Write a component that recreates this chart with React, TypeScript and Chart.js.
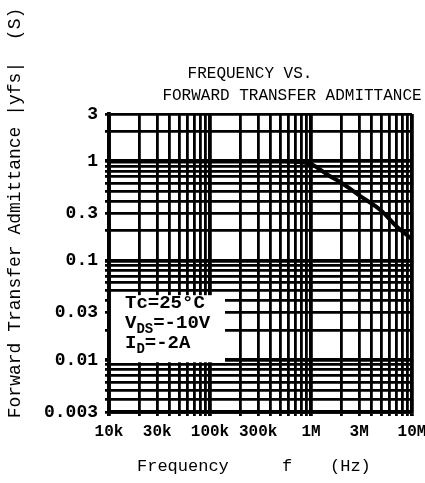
import { useEffect, useRef } from 'react';
import { Chart, registerables } from 'chart.js';

Chart.register(...registerables);

// Curve: forward transfer admittance |yfs| (S) vs frequency (Hz)
const freqHz = [1e4, 1e5, 5e5, 8e5, 1e6, 1.5e6, 2e6, 3e6, 5e6, 7e6, 1e7];
const yfsS = [1, 1, 1, 0.98, 0.94, 0.72, 0.61, 0.455, 0.317, 0.222, 0.165];

// Labelled ticks
const xTickValues = [1e4, 3e4, 1e5, 3e5, 1e6, 3e6, 1e7];
const xTickLabels = ['10k', '30k', '100k', '300k', '1M', '3M', '10M'];
const yTickValues = [3, 1, 0.3, 0.1, 0.03, 0.01, 0.003];
const yTickLabels = ['3', '1', '0.3', '0.1', '0.03', '0.01', '0.003'];

// Log-paper grid: 1..9 inside each decade
const xDecades = [1e4, 1e5, 1e6];
const yDecades = [0.001, 0.01, 0.1, 1];
const gridSteps = [1, 2, 3, 4, 5, 6, 7, 8, 9];

const titleLines = ['FREQUENCY VS.', 'FORWARD TRANSFER ADMITTANCE'];
const yTitle = 'Forward Transfer Admittance |yfs|  (S)';

const FONT = "'Liberation Mono', 'Courier New', monospace";

const near = (a: number, b: number) => Math.abs(a - b) / b < 1e-6;

function buildGrid(decades: number[], min: number, max: number): number[] {
  const out: number[] = [];
  decades.forEach((d) => gridSteps.forEach((s) => {
    const v = parseFloat((d * s).toPrecision(6));
    if (v >= min * 0.999999 && v <= max * 1.000001) out.push(v);
  }));
  if (!out.some((v) => near(v, max))) out.push(max);
  return out;
}

function labelFor(v: number, values: number[], labels: string[]): string {
  const i = values.findIndex((t) => near(v, t));
  return i >= 0 ? labels[i] : '';
}

const isDecade = (v: number) => {
  const l = Math.log10(v);
  return Math.abs(l - Math.round(l)) < 1e-6;
};

const textPlugin = {
  id: 'paperText',
  beforeDatasetsDraw(chart: any) {
    const ctx = chart.ctx;
    const xs = chart.scales.x;
    const ys = chart.scales.y;
    // white-out box for the conditions text
    ctx.save();
    ctx.fillStyle = '#fff';
    const left = xs.getPixelForValue(1e4) + 2;
    const top = ys.getPixelForValue(0.045);
    const bottom = ys.getPixelForValue(0.0095);
    ctx.fillRect(left, top, 114, bottom - top);
    ctx.restore();
  },
  afterDraw(chart: any) {
    const ctx = chart.ctx;
    ctx.save();
    ctx.fillStyle = '#000';
    ctx.textBaseline = 'middle';
    // Title
    ctx.font = `16px ${FONT}`;
    ctx.textAlign = 'center';
    ctx.fillText(titleLines[0], 250, 74);
    ctx.fillText(titleLines[1], 292, 96);

    // Y axis title
    ctx.save();
    ctx.translate(15, 213);
    ctx.rotate(-Math.PI / 2);
    ctx.font = `18px ${FONT}`;
    ctx.textAlign = 'center';
    ctx.fillText(yTitle, 0, 0);
    ctx.restore();

    // X axis title
    ctx.font = `17px ${FONT}`;
    ctx.textAlign = 'left';
    ctx.fillText('Frequency', 137, 466);
    ctx.fillText('f', 282, 466);
    ctx.fillText('(Hz)', 330, 466);

    // Conditions
    const x0 = 125;
    const big = `bold 19px ${FONT}`;
    const small = `bold 14px ${FONT}`;
    ctx.font = big;
    ctx.fillText('Tc=25°C', x0, 303);
    let x = x0;
    ctx.fillText('V', x, 323);
    x += ctx.measureText('V').width;
    ctx.font = small;
    ctx.fillText('DS', x, 329);
    x += ctx.measureText('DS').width;
    ctx.font = big;
    ctx.fillText('=-10V', x, 323);
    x = x0;
    ctx.fillText('I', x, 343);
    x += ctx.measureText('I').width;
    ctx.font = small;
    ctx.fillText('D', x, 349);
    x += ctx.measureText('D').width;
    ctx.font = big;
    ctx.fillText('=-2A', x, 343);
    ctx.restore();
  },
};

export default function App() {
  const ref = useRef<HTMLCanvasElement | null>(null);

  useEffect(() => {
    document.body.style.margin = '0';
    const canvas = ref.current;
    if (!canvas) return;
    const xGrid = buildGrid(xDecades, 1e4, 1e7);
    const yGrid = buildGrid(yDecades, 0.003, 3);

    const gridWidth = (c: any) => (isDecade(c.tick?.value ?? 1) ? 3.8 : 2.8);

    const chart = new Chart(canvas, {
      type: 'line',
      data: {
        datasets: [
          {
            data: freqHz.map((f, i) => ({ x: f, y: yfsS[i] })),
            borderColor: '#000',
            borderWidth: 4,
            pointRadius: 0,
            cubicInterpolationMode: 'monotone',
            fill: false,
          },
        ],
      },
      options: {
        responsive: false,
        animation: false,
        layout: { padding: { left: 0, top: 114, right: 13, bottom: 0 } },
        plugins: {
          legend: { display: false },
          tooltip: { enabled: false },
          title: { display: false },
        },
        scales: {
          x: {
            type: 'logarithmic',
            min: 1e4,
            max: 1e7,
            afterBuildTicks: (s: any) => {
              s.ticks = xGrid.map((v) => ({ value: v }));
            },
            afterFit: (s: any) => {
              s.height = 71;
              s.paddingLeft = 0;
              s.paddingRight = 0;
            },
            ticks: {
              autoSkip: false,
              maxRotation: 0,
              minRotation: 0,
              padding: 6,
              color: '#000',
              font: { family: FONT, size: 16, weight: 'bold' },
              callback: (v: any) => labelFor(Number(v), xTickValues, xTickLabels),
            },
            grid: {
              color: '#000',
              lineWidth: gridWidth,
              tickLength: 4,
              tickColor: '#000',
            },
            border: { color: '#000', width: 3.8 },
          },
          y: {
            type: 'logarithmic',
            min: 0.003,
            max: 3,
            afterBuildTicks: (s: any) => {
              s.ticks = yGrid.map((v) => ({ value: v }));
            },
            afterFit: (s: any) => {
              s.width = 109;
              s.paddingTop = 0;
              s.paddingBottom = 0;
            },
            ticks: {
              autoSkip: false,
              padding: 7,
              color: '#000',
              font: { family: FONT, size: 18, weight: 'bold' },
              callback: (v: any) => labelFor(Number(v), yTickValues, yTickLabels),
            },
            grid: {
              color: '#000',
              lineWidth: gridWidth,
              tickLength: 4,
              tickColor: '#000',
            },
            border: { color: '#000', width: 3.8 },
          },
        },
      },
      plugins: [textPlugin],
    } as any);

    return () => chart.destroy();
  }, []);

  return <canvas ref={ref} width={425} height={483} style={{ display: 'block' }} />;
}
